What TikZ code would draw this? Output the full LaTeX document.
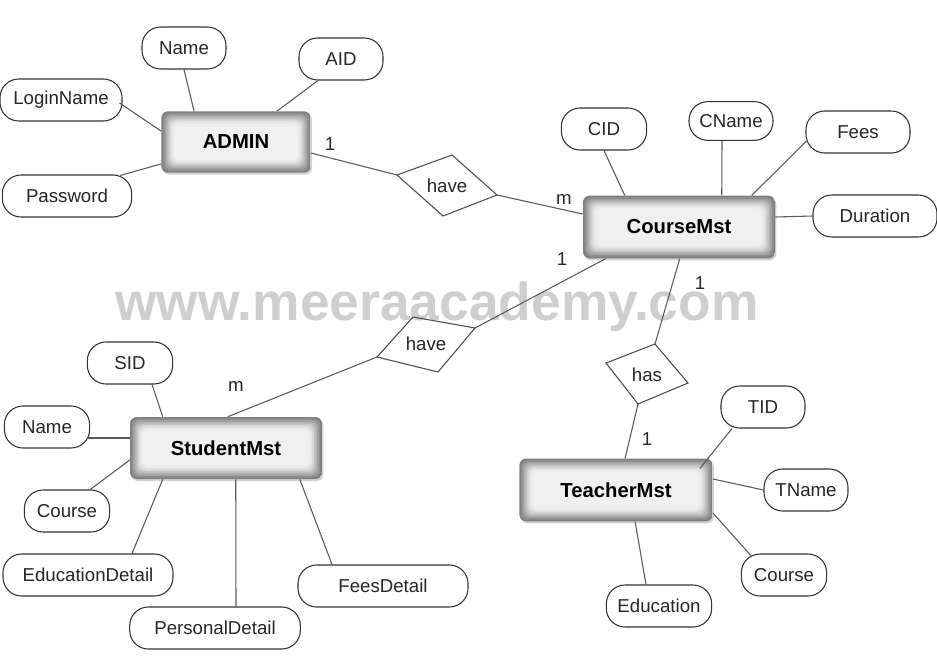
\documentclass[tikz,border=0pt]{standalone}
\usepackage{fontspec}
\setmainfont{Liberation Sans}
\usetikzlibrary{calc,shadows}
\tikzset{
  conn/.style={draw=black!65, line width=0.8pt},
  attr/.style={draw=black!80, line width=0.8pt, rectangle, rounded corners=14pt, fill=white,
    minimum height=31.5pt, inner sep=0pt, font=\fontsize{14}{16}\selectfont, text=black!85},
  entity/.style={rectangle, rounded corners=5pt, inner sep=0pt,
    font=\fontsize{15.2}{17}\selectfont\bfseries, text=black,
    drop shadow={shadow xshift=1pt, shadow yshift=-1.5pt, fill=black!35, opacity=0.5},
    path picture={
      \foreach \i/\c in {0/50,1.2/44,2.4/37,3.6/30,4.8/23,6/16,7.2/11,8.4/8,9.6/6}{
        \fill[black!\c, rounded corners=5pt]
          ([shift={(\i pt,\i pt)}]path picture bounding box.south west) rectangle
          ([shift={(-\i pt,-\i pt)}]path picture bounding box.north east);
      }
    }},
  rel/.style={draw=black!70, line width=0.8pt, line join=miter},
  reltext/.style={font=\fontsize{14}{16}\selectfont, text=black!85, inner sep=0pt},
  card/.style={font=\fontsize{14}{16}\selectfont, text=black!85, inner sep=0pt},
  wmark/.style={font=\fontsize{40}{44}\selectfont\bfseries, text=black!19, inner sep=0pt, anchor=base}
}
\begin{document}
\begin{tikzpicture}[x=0.75pt, y=-0.75pt]
\useasboundingbox (0,0) rectangle (937,657);

% watermark
\node[wmark] (wm) at (437,320) {www.meeraacademy.com};

% entities
\node[entity, minimum width=112pt, minimum height=46pt] (ADMIN) at (236,142) {ADMIN};
\node[entity, minimum width=144pt, minimum height=47pt] (CourseMst) at (679,227) {CourseMst};
\node[entity, minimum width=144pt, minimum height=46.5pt] (StudentMst) at (226,448) {StudentMst};
\node[entity, minimum width=145pt, minimum height=47pt] (TeacherMst) at (616,490) {TeacherMst};

% attributes ADMIN
\node[attr, minimum width=63pt] (AName) at (184,48) {Name};
\node[attr, minimum width=63pt] (AID) at (341,59) {AID};
\node[attr, minimum width=91.5pt] (LoginName) at (61,100) {LoginName};
\node[attr, minimum width=97pt] (Password) at (67,196) {Password};

% attributes CourseMst
\node[attr, minimum width=64pt] (CID) at (604,129) {CID};
\node[attr, minimum width=63pt, minimum height=29pt] (CName) at (731,121) {CName};
\node[attr, minimum width=78pt] (Fees) at (858,132) {Fees};
\node[attr, minimum width=93pt] (Duration) at (875,216) {Duration};

% attributes StudentMst
\node[attr, minimum width=64pt] (SID) at (130,363) {SID};
\node[attr, minimum width=64pt] (SName) at (47,427) {Name};
\node[attr, minimum width=64pt] (SCourse) at (67,511) {Course};
\node[attr, minimum width=127.5pt] (EduD) at (88,575) {EducationDetail};
\node[attr, minimum width=128pt] (PersD) at (215,628) {PersonalDetail};
\node[attr, minimum width=127.5pt] (FeesD) at (383,586) {FeesDetail};

% attributes TeacherMst
\node[attr, minimum width=63pt] (TID) at (763,407) {TID};
\node[attr, minimum width=63pt] (TName) at (806,490) {TName};
\node[attr, minimum width=64pt] (TCourse) at (784,575) {Course};
\node[attr, minimum width=79pt] (TEdu) at (659,606) {Education};

% relationship diamonds
\coordinate (d1l) at (397,175); \coordinate (d1t) at (452,155);
\coordinate (d1r) at (497,195); \coordinate (d1b) at (443,216);
\draw[rel] (d1l) -- (d1t) -- (d1r) -- (d1b) -- cycle;
\node[reltext] (have1) at (447,186) {have};

\coordinate (d2t) at (413,317); \coordinate (d2r) at (475,328);
\coordinate (d2b) at (438,372); \coordinate (d2l) at (377,357);
\draw[rel] (d2t) -- (d2r) -- (d2b) -- (d2l) -- cycle;
\node[reltext] (have2) at (426,344) {have};

\coordinate (d3t) at (655,344); \coordinate (d3r) at (688,383);
\coordinate (d3b) at (638,404); \coordinate (d3l) at (606,363);
\draw[rel] (d3t) -- (d3r) -- (d3b) -- (d3l) -- cycle;
\node[reltext] (has) at (647,375) {has};

% ADMIN connectors
\draw[conn] (AName.south) -- ($(ADMIN.north west)+(33,0)$);
\draw[conn] ($(AID.south)+(-23,0)$) -- ($(ADMIN.north west)+(116,0)$);
\draw[conn] ($(LoginName.east)+(-3,3)$) -- ($(ADMIN.north west)+(0,20)$);
\draw[conn] ($(Password.north east)+(-12,1)$) -- ($(ADMIN.south west)+(0,-9)$);
\draw[conn] ($(ADMIN.east)+(0,11)$) -- (d1l);
\draw[conn] (d1r) -- ($(CourseMst.west)+(0,-13)$);

% CourseMst connectors
\draw[conn] (CID.south) -- ($(CourseMst.north west)+(42,0)$);
\draw[conn] ($(CName.south)+(-9,0)$) -- ($(CourseMst.north west)+(139,0)$);
\draw[conn] ($(Fees.west)+(1,9)$) -- ($(CourseMst.north west)+(169,0)$);
\draw[conn] (Duration.west) -- ($(CourseMst.east)+(0,-10)$);
\draw[conn] ($(CourseMst.south west)+(23,0)$) -- (d2r);
\draw[conn] ($(CourseMst.south west)+(97,0)$) -- (d3t);

% StudentMst connectors
\draw[conn] (d2l) -- ($(StudentMst.north west)+(98,0)$);
\draw[conn] ($(SID.south)+(22,0)$) -- ($(StudentMst.north west)+(33,0)$);
\draw[conn] ($(SName.east)+(-3,11)$) -- ($(StudentMst.west)+(0,-10)$);
\draw[conn] ($(SCourse.north east)+(-20,0)$) -- ($(StudentMst.west)+(0,12)$);
\draw[conn] ($(EduD.north)+(44,0)$) -- ($(StudentMst.south west)+(33,0)$);
\draw[conn] ($(PersD.north)+(21,0)$) -- ($(StudentMst.south west)+(106,0)$);
\draw[conn] ($(FeesD.north)+(-51,0)$) -- ($(StudentMst.south west)+(170,0)$);

% TeacherMst connectors
\draw[conn] (d3b) -- ($(TeacherMst.north west)+(106,0)$);
\draw[conn] ($(TID.south)+(-31,0)$) -- ($(TeacherMst.north east)+(-13,10)$);
\draw[conn] (TName.west) -- ($(TeacherMst.east)+(0,-11)$);
\draw[conn] ($(TCourse.north west)+(10,2)$) -- ($(TeacherMst.east)+(0,23)$);
\draw[conn] ($(TEdu.north)+(-13,0)$) -- ($(TeacherMst.south west)+(116,0)$);

% cardinalities
\node[card] (c1) at (330,144) {1};
\node[card] (c2) at (564,199) {m};
\node[card] (c3) at (562,259) {1};
\node[card] (c4) at (700,283) {1};
\node[card] (c5) at (236,386) {m};
\node[card] (c6) at (647,439) {1};
\end{tikzpicture}
\end{document}
